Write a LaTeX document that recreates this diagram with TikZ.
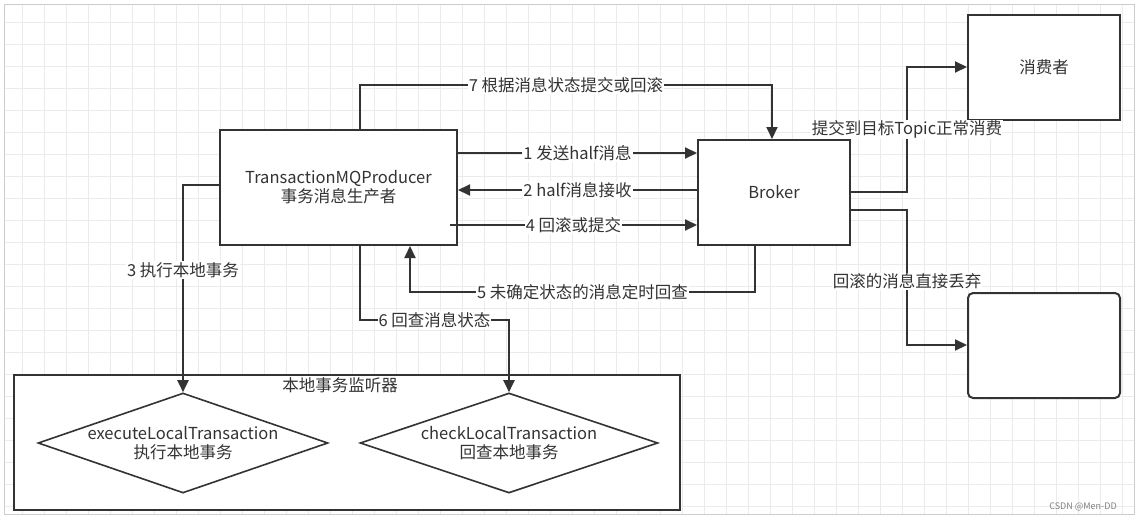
\documentclass[tikz,border=0pt]{standalone}
\usepackage{fontspec}
\setmainfont{Noto Sans CJK SC}
\usetikzlibrary{arrows.meta,shapes.geometric}
\begin{document}
\begin{tikzpicture}[x=1pt,y=-1pt,
    box/.style={draw=black!80, line width=2pt, fill=white, inner sep=0pt},
    dia/.style={diamond, draw=black!80, line width=1.6pt, fill=white, aspect=2.9, inner sep=0pt,
        minimum width=290pt, minimum height=100pt, align=center, text=black!80},
    conn/.style={draw=black!80, line width=2pt},
    arr/.style={conn, -{Triangle[length=12pt,width=11pt]}},
    lbl/.style={fill=white, inner sep=1pt, text=black!80},
    font=\fontsize{16.5pt}{19pt}\selectfont]
\useasboundingbox (0,0) rectangle (1141,522);
\fill[white] (0,0) rectangle (1141,522);
\draw[black!8, line width=0.8pt, step=22pt] (4,4) grid (1134,514);
\draw[black!20, line width=1pt] (4,4) rectangle (1134,514);
% nodes
\node[box, minimum width=237pt, minimum height=115pt, align=center, text=black!80] (prod) at (338.5,187.5)
    {TransactionMQProducer\\事务消息生产者};
\node[box, minimum width=152pt, minimum height=105pt, text=black!80] (broker) at (774,192.5) {Broker};
\node[box, minimum width=152pt, minimum height=105pt, text=black!80] (cons) at (1044,67.5) {};
\node[text=black!80] (consl) at (1044,67) {消费者};
\node[box, rounded corners=5pt, minimum width=152pt, minimum height=105pt] (drop) at (1044,345.5) {};
\node[box, minimum width=666pt, minimum height=135pt] (listen) at (347,442.5) {};
\node[text=black!80] (listenl) at (340,385) {本地事务监听器};
\node[dia] (exec) at (183,443) {executeLocalTransaction\\执行本地事务};
\node[dia, minimum width=298pt] (check) at (509,443) {checkLocalTransaction\\回查本地事务};
% connectors
\coordinate (c7a) at (360,85); \coordinate (c7b) at (772,85);
\draw[arr] (prod.north -| c7a) -- (c7a) -- node[lbl]{7 根据消息状态提交或回滚} (c7b) -- (broker.north -| c7b);
\draw[arr] (prod.east |- 0,153) -- node[lbl]{1 发送half消息} (broker.west |- 0,153);
\draw[arr] (broker.west |- 0,190) -- node[lbl]{2 half消息接收} (prod.east |- 0,190);
\coordinate (c4) at (450,225);
\draw[arr] (c4) -- node[lbl]{4 回滚或提交} (broker.west |- c4);
\coordinate (c5a) at (755,292); \coordinate (c5b) at (410,292);
\draw[arr] (broker.south -| c5a) -- (c5a) -- node[lbl]{5 未确定状态的消息定时回查} (c5b) -- (prod.south -| c5b);
\coordinate (c6a) at (360,320); \coordinate (c6b) at (509,320);
\draw[arr] (prod.south -| c6a) -- (c6a) -- node[lbl, pos=0.5]{6 回查消息状态} (c6b) -- (check.north);
\coordinate (c3a) at (183,185);
\draw[arr] (prod.west |- c3a) -- (c3a) -- node[lbl, pos=0.41]{3 执行本地事务} (exec.north);
\coordinate (cc1) at (907,192); \coordinate (cc2) at (907,67);
\draw[arr] (broker.east |- cc1) -- (cc1) -- node[lbl, pos=0.5]{提交到目标Topic正常消费} (cc2) -- (cons.west |- cc2);
\coordinate (cd1) at (907,210); \coordinate (cd2) at (907,345);
\draw[arr] (broker.east |- cd1) -- (cd1) -- node[lbl, pos=0.53]{回滚的消息直接丢弃} (cd2) -- (drop.west |- cd2);
\node[text=black!50, font=\fontsize{9pt}{10pt}\selectfont] (wm) at (1083,507) {CSDN @Men-DD};
\end{tikzpicture}
\end{document}
